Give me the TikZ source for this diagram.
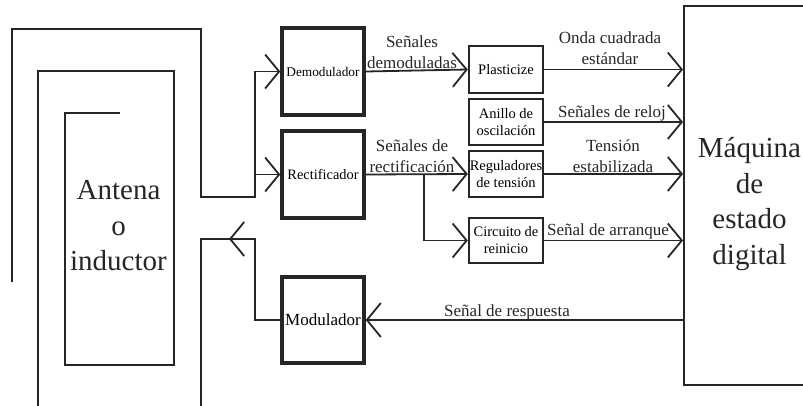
\documentclass[tikz,border=0pt]{standalone}
\usepackage{fontspec}
\setmainfont{Liberation Serif}
\usetikzlibrary{arrows.meta}
\begin{document}
\begin{tikzpicture}[x=1pt,y=-1pt,
  conn/.style={line width=1.8pt, draw=black!85, line join=miter},
  arr/.style={conn, -{Straight Barb[length=14pt,width=34pt]}},
  bigbox/.style={draw=black!85, line width=3.4pt, minimum width=82pt, minimum height=87pt, inner sep=0pt},
  smallbox/.style={draw=black!85, line width=2.4pt, minimum width=74pt, minimum height=46pt, inner sep=0pt, align=center, font=\fontsize{14.5}{17}\selectfont},
  lbl/.style={align=center, inner sep=0pt, text=black!85, font=\fontsize{17}{21}\selectfont},
  big/.style={align=center, inner sep=0pt, text=black!85, font=\fontsize{29}{35.5}\selectfont}]
\useasboundingbox (0,0) rectangle (803,406);

% boxes
\node[bigbox, font=\fontsize{13.3}{16}\selectfont] (demod) at (323,71.5) {Demodulador};
\node[bigbox, font=\fontsize{14.4}{17}\selectfont] (rect) at (323,174.5) {Rectificador};
\node[bigbox, minimum height=86pt, font=\fontsize{17}{20}\selectfont] (mod) at (323,320) {Modulador};

\node[smallbox, minimum height=47pt] (plast) at (506,69.5) {Plasticize};
\node[smallbox] (anillo) at (506,122) {Anillo de\\oscilación};
\node[smallbox] (regul) at (506,174) {Reguladores\\de tensión};
\node[smallbox, minimum height=45pt] (circ) at (506,240.5) {Circuito de\\reinicio};

\node[draw=black!85, line width=2pt, minimum width=131pt, minimum height=379pt, inner sep=0pt] (maq) at (749.5,195.5) {};
\node[big] (maqtxt) at (749.5,204) {Máquina\\de\\estado\\digital};

\node[big] (anttxt) at (118.5,226) {Antena\\o\\inductor};

% antenna spiral
\coordinate (a1) at (12,282);
\coordinate (a2) at (12,29);
\coordinate (a3) at (201,29);
\coordinate (a4) at (201,197);
\coordinate (a5) at (255,197);
\coordinate (a6) at (255,71.5);
\coordinate (a7) at (255,174.5);
\draw[conn] (a1) -- (a2) -- (a3) -- (a4) -- (a5) -- (a6);
\draw[arr] (a6) -- (demod.west);
\draw[arr] (a7) -- (rect.west);

\coordinate (b1) at (38,406);
\coordinate (b2) at (38,71);
\coordinate (b3) at (174,71);
\coordinate (b4) at (174,365);
\coordinate (b5) at (65,365);
\coordinate (b6) at (65,113);
\coordinate (b7) at (120,113);
\draw[conn] (b1) -- (b2) -- (b3) -- (b4) -- (b5) -- (b6) -- (b7);

\coordinate (c1) at (201,406);
\coordinate (c2) at (201,239);
\coordinate (c3) at (255,239);
\coordinate (c4) at (255,320);
\coordinate (c5) at (229,239);
\draw[conn] (mod.west) -- (c4) -- (c3) -- (c2) -- (c1);
\draw[arr] (c3) -- (c5);

% signal paths
\draw[arr] (demod.east) -- (plast.west);
\draw[arr] (rect.east) -- (regul.west);
\coordinate (r1) at (424,174.5);
\draw[arr] (r1) |- (circ.west);

\draw[arr] (plast.east) -- (plast.east -| maq.west);
\draw[arr] (anillo.east) -- (anillo.east -| maq.west);
\draw[arr] (regul.east) -- (regul.east -| maq.west);
\draw[arr] (circ.east) -- (circ.east -| maq.west);
\coordinate (m1) at (684.5,320);
\draw[arr] (m1) -- (mod.east);

% labels
\node[lbl] (l1) at (412,52.5) {Señales\\demoduladas};
\node[lbl] (l2) at (412,156) {Señales de\\rectificación};
\node[lbl] (l3) at (610,48) {Onda cuadrada\\estándar};
\node[lbl] (l4) at (612,113) {Señales de reloj};
\node[lbl] (l5) at (613,156.5) {Tensión\\estabilizada};
\node[lbl] (l6) at (608,231) {Señal de arranque};
\node[lbl] (l7) at (507,312) {Señal de respuesta};
\end{tikzpicture}
\end{document}
